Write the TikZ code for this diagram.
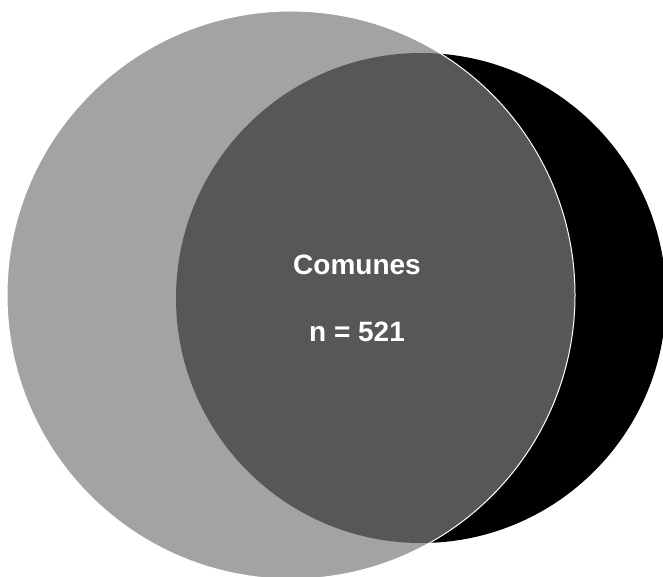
\documentclass[tikz,border=0pt]{standalone}
\usepackage{fontspec}
\setmainfont{Liberation Sans}
\definecolor{setgray}{RGB}{124,124,124}
\tikzset{
  setA/.style={circle, fill=black, draw=none, minimum size=#1, inner sep=0pt},
  setB/.style={circle, fill=setgray, fill opacity=0.70, draw=white, draw opacity=1, line width=1pt, minimum size=#1, inner sep=0pt},
  lbl/.style={text=white, font=\fontsize{28}{32}\selectfont\bfseries, inner sep=0pt}
}
\begin{document}
\begin{tikzpicture}[x=1pt,y=-1pt]
\useasboundingbox (0,0) rectangle (663,577);
\node[setA=490pt] (black) at (421,298) {};
\node[setB=568pt] (gray) at (291,295) {};
\node[lbl] (t1) at (357,265) {Comunes};
\node[lbl] (t2) at (357,332) {n = 521};
\end{tikzpicture}
\end{document}
